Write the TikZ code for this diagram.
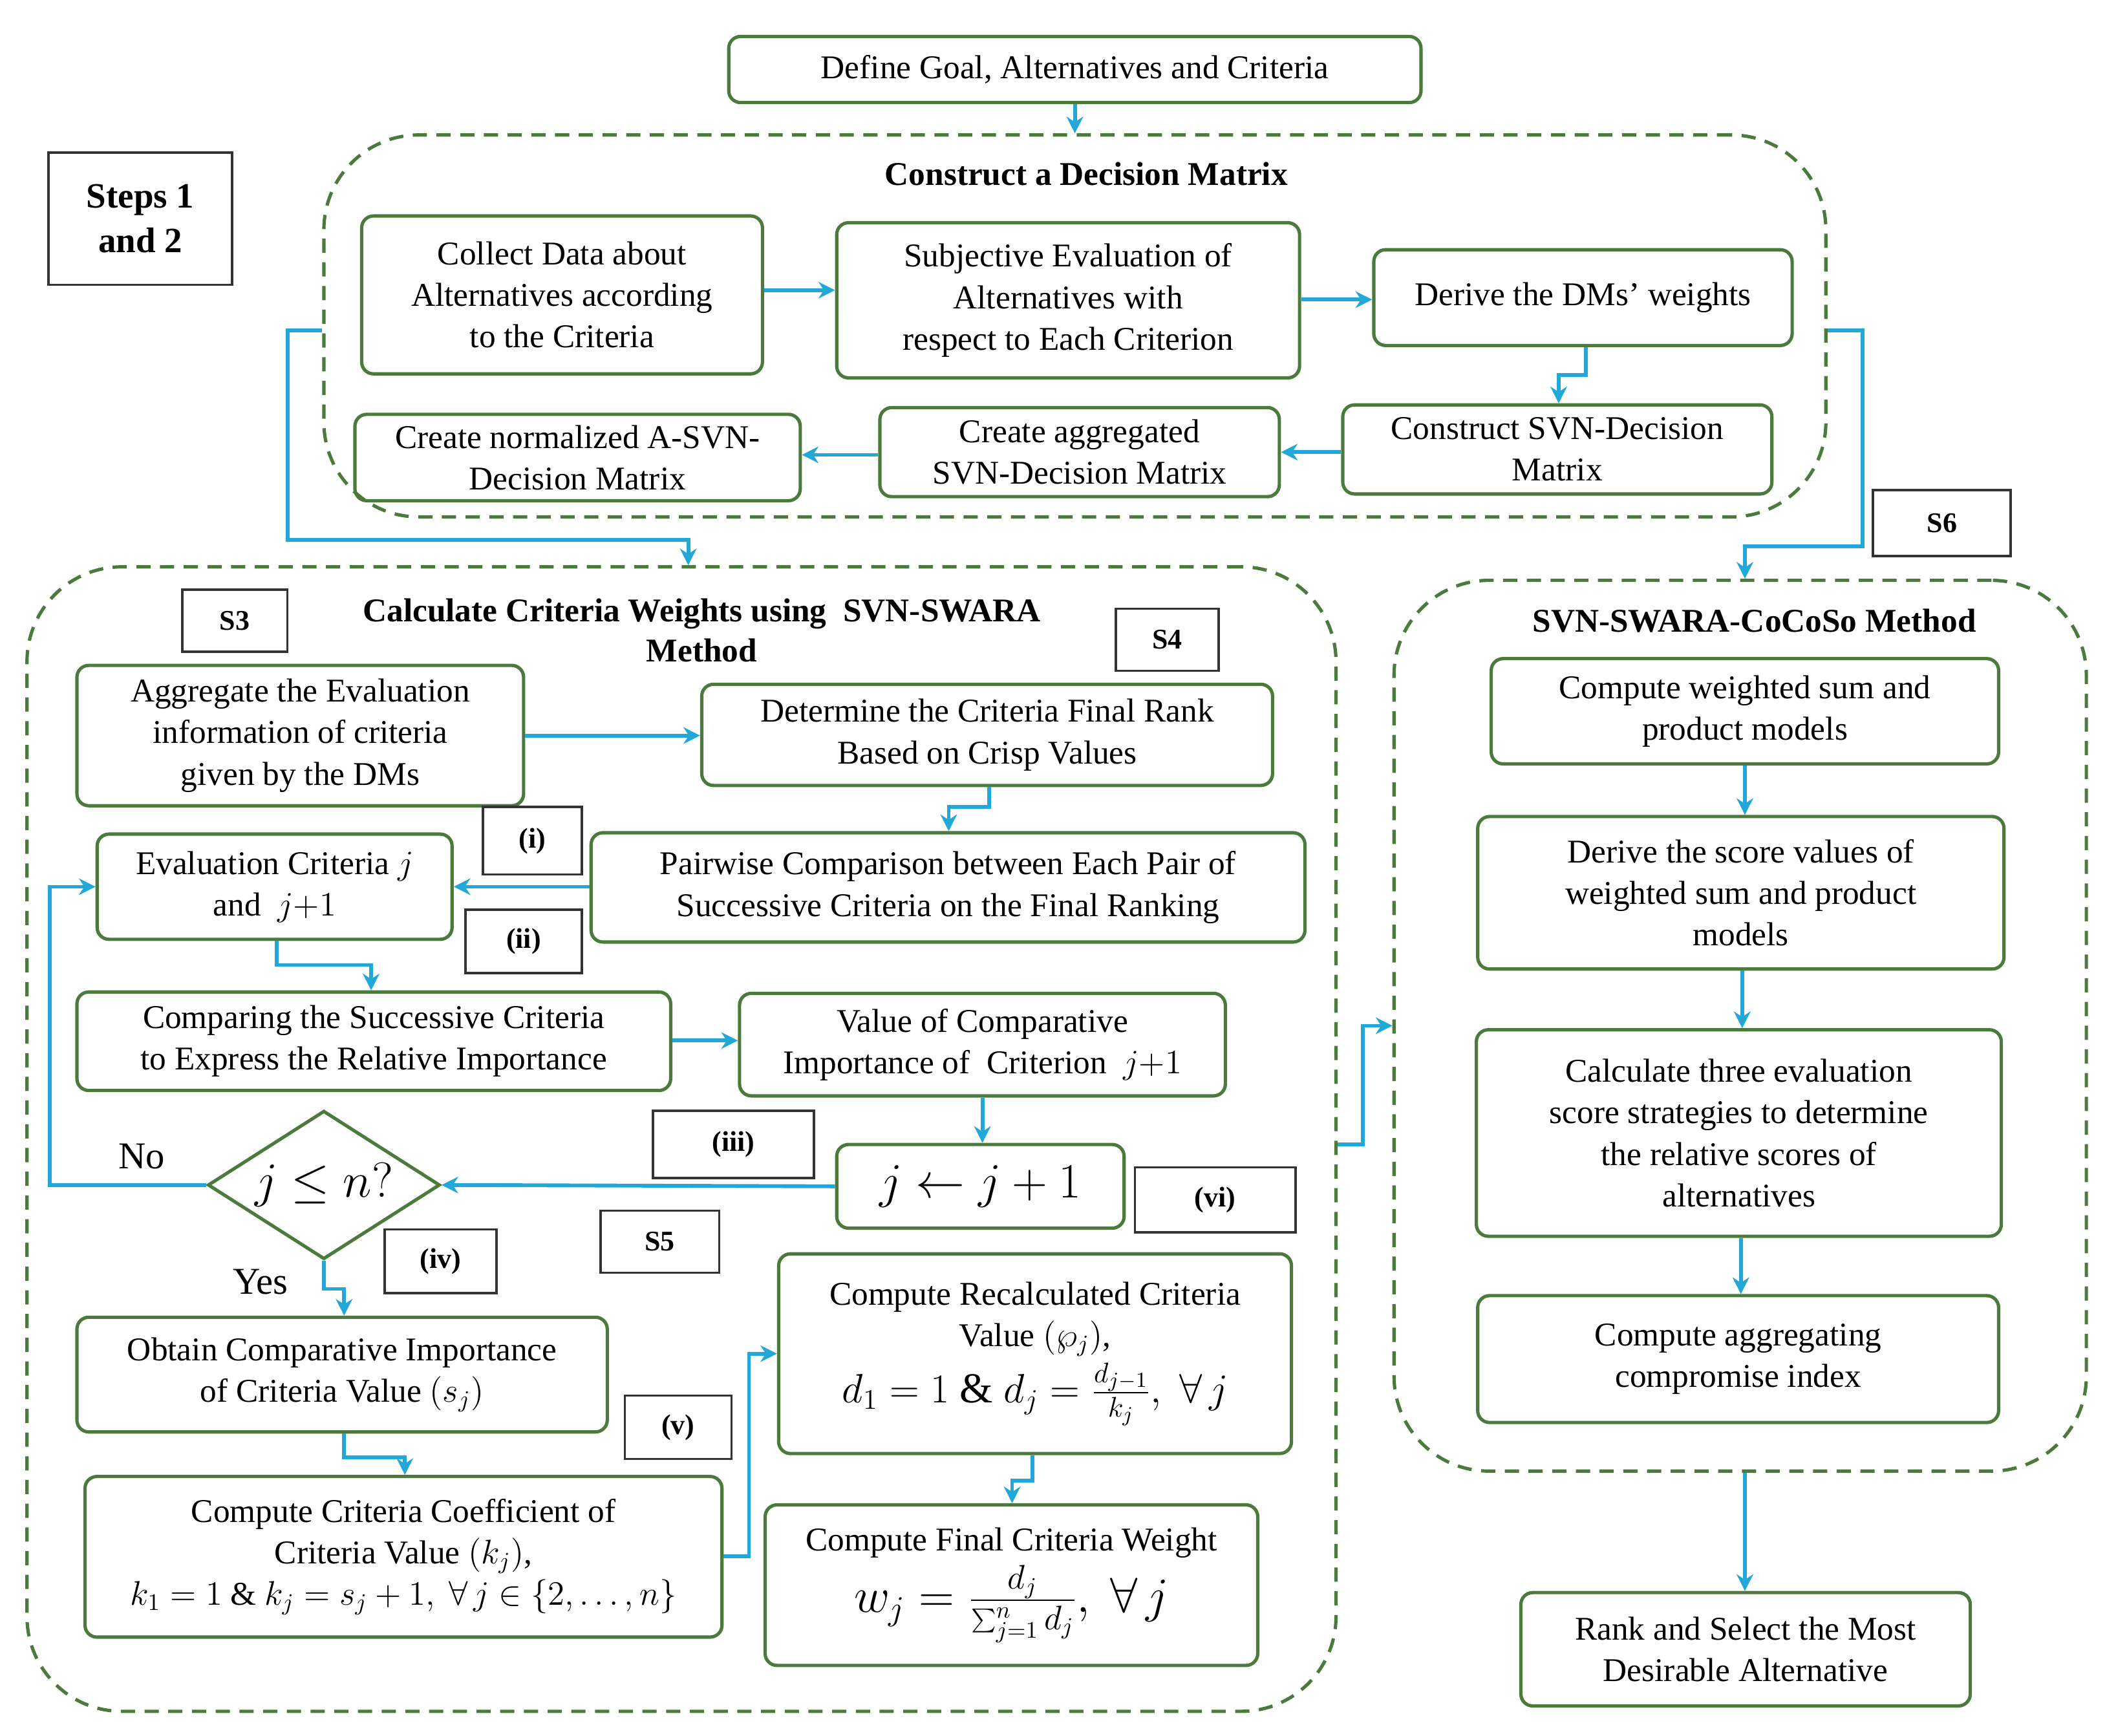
\documentclass[tikz,border=0pt]{standalone}
\usepackage{fontspec}
\setmainfont{Liberation Serif}
\usetikzlibrary{shapes.geometric,arrows.meta}
\definecolor{grn}{HTML}{4C7A3C}
\definecolor{cy}{HTML}{22A8D8}
\tikzset{
 sz/.style 2 args={minimum width=#1*0.02cm,minimum height=#2*0.02cm},
 box/.style={draw=grn,line width=1.4pt,rounded corners=5pt,align=center,inner sep=1pt,font=\fontsize{14}{17.5}\selectfont},
 lab/.style={draw=black!80,line width=1pt,align=center,font=\bfseries\fontsize{12}{14}\selectfont},
 grp/.style={draw=grn,line width=1.4pt,dashed,dash pattern=on 6pt off 4pt,rounded corners=40pt},
 ttl/.style={font=\bfseries\fontsize{14}{17}\selectfont,align=center},
 ar/.style={draw=cy,line width=1.6pt,-{Stealth[length=7pt,width=7pt]}}}
\begin{document}
\begin{tikzpicture}[x=0.02cm,y=-0.02cm]
\useasboundingbox (0,0) rectangle (1568,1286);
% groups
\node[grp,sz={1113}{283}] (g1) at (796.5,241.5) {};
\node[grp,sz={970}{848}] (g2) at (505,844) {};
\node[grp,sz={513}{660}] (g3) at (1289.5,760) {};
\node[ttl] (t1) at (805,129) {Construct a Decision Matrix};
\node[ttl] (t2) at (520,467) {Calculate Criteria Weights using\ \ SVN-SWARA\\Method};
\node[ttl] (t3) at (1300,460) {SVN-SWARA-CoCoSo Method};
% boxes
\node[box,sz={513}{49}] (def) at (796.5,51.5) {Define Goal, Alternatives and Criteria};
\node[lab,sz={136}{98},font=\bfseries\fontsize{15}{19}\selectfont] (st) at (104,162) {Steps 1\\and 2};
\node[box,sz={297}{117}] (col) at (416.5,218.5) {Collect Data about\\Alternatives according\\to the Criteria};
\node[box,sz={343}{115}] (sub) at (791.5,222.5) {Subjective Evaluation of\\Alternatives with\\respect to Each Criterion};
\node[box,sz={310}{71}] (dms) at (1173,220.5) {Derive the DMs’ weights};
\node[box,sz={318}{66}] (con) at (1154,333) {Construct SVN-Decision\\Matrix};
\node[box,sz={296}{66}] (agg) at (800,335) {Create aggregated\\SVN-Decision Matrix};
\node[box,sz={330}{64}] (nor) at (428,339) {Create normalized A-SVN-\\Decision Matrix};
\node[lab,sz={102}{49}] (s6) at (1439,387.5) {S6};
\node[lab,sz={78}{46}] (s3) at (174,460) {S3};
\node[lab,sz={76}{46}] (s4) at (865,474) {S4};
\node[box,sz={331}{104}] (age) at (222.5,545) {Aggregate the Evaluation\\information of criteria\\given by the DMs};
\node[box,sz={423}{75}] (det) at (731.5,544.5) {Determine the Criteria Final Rank\\Based on Crisp Values};
\node[lab,sz={73}{50}] (li) at (394.5,623) {(i)};
\node[box,sz={263}{78}] (ev) at (203.5,657) {Evaluation Criteria $j$\\and\ \ $j{+}1$};
\node[box,sz={529}{81}] (pw) at (702.5,657.5) {Pairwise Comparison between Each Pair of\\Successive Criteria on the Final Ranking};
\node[lab,sz={86}{47}] (lii) at (388,697.5) {(ii)};
\node[box,sz={440}{73}] (cmp) at (277,771.5) {Comparing the Successive Criteria\\to Express the Relative Importance};
\node[box,sz={360}{76}] (val) at (728,774) {Value of Comparative\\Importance of\ \ Criterion\ \ $j{+}1$};
\node[lab,sz={119}{50}] (liii) at (543.5,848) {(iii)};
\node[box,sz={213}{62},font=\fontsize{20}{24}\selectfont] (jj) at (726.5,879) {$j \leftarrow j+1$};
\node[lab,sz={119}{48}] (lvi) at (900.5,889) {(vi)};
\node[draw=grn,line width=1.4pt,diamond,aspect=1.56,sz={172}{110},inner sep=0pt,font=\fontsize{20}{24}\selectfont] (dia) at (240,878) {$j\le n?$};
\node[font=\fontsize{16}{19}\selectfont] (no) at (105,857) {No};
\node[font=\fontsize{16}{19}\selectfont] (yes) at (193,950) {Yes};
\node[lab,sz={83}{47}] (liv) at (326.5,934.5) {(iv)};
\node[lab,sz={88}{46}] (s5) at (489,920) {S5};
\node[box,sz={393}{85}] (obt) at (253.5,1018.5) {Obtain Comparative Importance\\of Criteria Value $(s_j)$};
\node[lab,sz={79}{47}] (lv) at (502.5,1057.5) {(v)};
\node[box,sz={380}{148}] (rec) at (767,1003) {Compute Recalculated Criteria\\Value $(\wp_j)$,\\[2pt] {\fontsize{18}{20}\selectfont $d_1=1$ \& $d_j=\frac{d_{j-1}}{k_j},\ \forall\, j$}};
\node[box,sz={472}{119}] (coe) at (299,1153.5) {Compute Criteria Coefficient of\\Criteria Value $(k_j)$,\\ $k_1=1$ \& $k_j=s_j+1,\ \forall\, j\in\{2,\dots,n\}$};
\node[box,sz={365}{119}] (fin) at (749.5,1174.5) {Compute Final Criteria Weight\\[2pt] {\fontsize{20}{22}\selectfont $w_j=\frac{d_j}{\sum_{j=1}^{n} d_j},\ \forall\, j$}};
\node[box,sz={376}{78}] (cw) at (1293,527) {Compute weighted sum and\\product models};
\node[box,sz={390}{113}] (ds) at (1290,661.5) {Derive the score values of\\weighted sum and product\\models};
\node[box,sz={389}{153}] (c3) at (1288.5,839.5) {Calculate three evaluation\\score strategies to determine\\the relative scores of\\alternatives};
\node[box,sz={386}{94}] (ca) at (1288,1007) {Compute aggregating\\compromise index};
\node[box,sz={333}{84}] (rk) at (1293.5,1222) {Rank and Select the Most\\Desirable Alternative};
% connectors
\draw[ar] (def.south) -- (g1.north -| def.south);
\draw[ar] (col.east |- 0,215) -- (sub.west |- 0,215);
\draw[ar] (sub.east |- 0,222) -- (dms.west |- 0,222);
\draw[ar] (dms.south -| 1175,0) -- (1175,278) -- (1155,278) -- (con.north -| 1155,0);
\draw[ar] (con.west |- 0,335) -- (agg.east |- 0,335);
\draw[ar] (agg.west |- 0,337) -- (nor.east |- 0,337);
\draw[ar] (g1.west |- 0,245) -- (213,245) -- (213,400) -- (510,400) -- (g2.north -| 510,0);
\draw[ar] (g1.east |- 0,245) -- (1380,245) -- (1380,405) -- (1293,405) -- (g3.north -| 1293,0);
\draw[ar] (age.east |- 0,545) -- (det.west |- 0,545);
\draw[ar] (det.south -| 733,0) -- (733,598) -- (703,598) -- (pw.north -| 703,0);
\draw[ar] (pw.west |- 0,657) -- (ev.east |- 0,657);
\draw[ar] (ev.south -| 205,0) -- (205,715) -- (275,715) -- (cmp.north -| 275,0);
\draw[ar] (cmp.east |- 0,771) -- (val.west |- 0,771);
\draw[ar] (val.south -| 728,0) -- (jj.north -| 728,0);
\draw[ar] (jj.west) -- (dia.east);
\draw[ar] (dia.west) -- (37,878) -- (37,657) -- (ev.west |- 0,657);
\draw[ar] (dia.south) -- (240,955) -- (255,955) -- (obt.north -| 255,0);
\draw[ar] (obt.south -| 255,0) -- (255,1080) -- (300,1080) -- (coe.north -| 300,0);
\draw[ar] (coe.east |- 0,1153) -- (555,1153) -- (555,1003) -- (rec.west |- 0,1003);
\draw[ar] (rec.south -| 765,0) -- (765,1097) -- (750,1097) -- (fin.north -| 750,0);
\draw[ar] (g2.east |- 0,848) -- (1010,848) -- (1010,760) -- (g3.west |- 0,760);
\draw[ar] (cw.south -| 1293,0) -- (ds.north -| 1293,0);
\draw[ar] (ds.south -| 1291,0) -- (c3.north -| 1291,0);
\draw[ar] (c3.south -| 1290,0) -- (ca.north -| 1290,0);
\draw[ar] (g3.south -| 1293,0) -- (rk.north -| 1293,0);
\end{tikzpicture}
\end{document}
